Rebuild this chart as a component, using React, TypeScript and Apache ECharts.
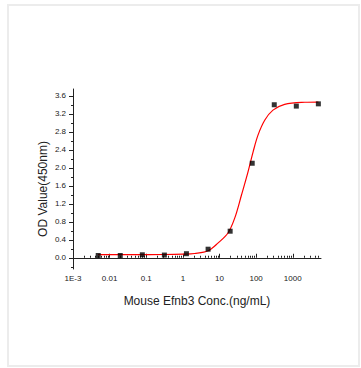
import React, { useEffect, useRef } from "react";
import * as echarts from "echarts";

// Measured points (4-fold dilution series)
const concentrations = [0.00488, 0.0195, 0.0781, 0.3125, 1.25, 4.88, 19.53, 78.13, 312.5, 1250, 5000];
const odValues = [0.05, 0.05, 0.066, 0.06, 0.09, 0.19, 0.59, 2.1, 3.4, 3.37, 3.42];

// Fitted curve
const curveX = [0.0048, 0.05, 0.3, 1, 2.1, 4.9, 9.2, 17, 26, 40, 60, 83, 113, 173, 288, 600, 2140, 5000];
const curveY = [0.07, 0.07, 0.072, 0.08, 0.095, 0.155, 0.33, 0.55, 0.88, 1.4, 1.91, 2.36, 2.73, 3.06, 3.28, 3.41, 3.455, 3.46];

// Axis ticks
const xTickValues = [0.001, 0.01, 0.1, 1, 10, 100, 1000];
const xTickLabels = ["1E-3", "0.01", "0.1", "1", "10", "100", "1000"];
const yTickValues = [0, 0.4, 0.8, 1.2, 1.6, 2.0, 2.4, 2.8, 3.2, 3.6];
const yTickLabels = ["0.0", "0.4", "0.8", "1.2", "1.6", "2.0", "2.4", "2.8", "3.2", "3.6"];
const yMinorTicks = [-0.2, 0.2, 0.6, 1.0, 1.4, 1.8, 2.2, 2.6, 3.0, 3.4];

const X_MIN = 0.001;
const X_MAX = 5900;
const Y_MIN = -0.25;
const Y_MAX = 3.75;

const FONT = "'Liberation Sans', Arial, sans-serif";

export default function App() {
  const ref = useRef<HTMLDivElement>(null);

  useEffect(() => {
    if (!ref.current) return;
    const chart = echarts.init(ref.current, undefined, { renderer: "svg" });

    const xMinor: number[] = [];
    for (let e = -3; e <= 3; e++) {
      for (let m = 2; m <= 9; m++) {
        const v = m * Math.pow(10, e);
        if (v <= X_MAX) xMinor.push(Number(v.toPrecision(3)));
      }
    }

    const curve = curveX.map((x, i) => [x, curveY[i]]);
    const pts = concentrations.map((x, i) => [x, odValues[i]]);

    const axisColor = "#222";

    chart.setOption({
      animation: false,
      backgroundColor: "#ffffff",
      grid: { left: 73, right: 40, top: 89, bottom: 99, containLabel: false },
      xAxis: [
        {
          type: "log",
          logBase: 10,
          min: X_MIN,
          max: X_MAX,
          position: "bottom",
          axisLine: { show: true, lineStyle: { color: axisColor, width: 1 } },
          axisTick: { show: true, inside: true, length: 4, customValues: xTickValues, lineStyle: { color: axisColor } },
          minorTick: { show: false },
          splitLine: { show: false },
          axisLabel: {
            customValues: xTickValues,
            margin: 5,
            fontSize: 8,
            fontFamily: FONT,
            color: "#222",
            formatter: (v: number) => {
              const idx = xTickValues.findIndex((t) => Math.abs(Math.log10(t) - Math.log10(v)) < 1e-6);
              return idx >= 0 ? xTickLabels[idx] : "";
            },
          },
          name: "Mouse Efnb3 Conc.(ng/mL)",
          nameLocation: "middle",
          nameGap: 26,
          nameTextStyle: { fontSize: 12, fontFamily: FONT, color: "#222" },
        },
        {
          type: "log",
          logBase: 10,
          min: X_MIN,
          max: X_MAX,
          position: "bottom",
          axisLine: { show: false },
          axisTick: { show: true, inside: true, length: 2, customValues: xMinor, lineStyle: { color: axisColor } },
          axisLabel: { show: false },
          splitLine: { show: false },
        },
      ],
      yAxis: [
        {
          type: "value",
          min: Y_MIN,
          max: Y_MAX,
          position: "left",
          axisLine: { show: true, lineStyle: { color: axisColor, width: 1 } },
          axisTick: { show: true, inside: false, length: 4, customValues: yTickValues, lineStyle: { color: axisColor } },
          splitLine: { show: false },
          axisLabel: {
            customValues: yTickValues,
            margin: 7,
            fontSize: 8,
            fontFamily: FONT,
            color: "#222",
            formatter: (v: number) => {
              const idx = yTickValues.findIndex((t) => Math.abs(t - v) < 1e-6);
              return idx >= 0 ? yTickLabels[idx] : "";
            },
          },
        },
        {
          type: "value",
          min: Y_MIN,
          max: Y_MAX,
          position: "left",
          axisLine: { show: false },
          axisTick: { show: true, inside: false, length: 2, customValues: yMinorTicks, lineStyle: { color: axisColor } },
          axisLabel: { show: false },
          splitLine: { show: false },
        },
      ],
      graphic: [
        {
          type: "rect",
          shape: { x: 8, y: 5, width: 351, height: 361 },
          style: { fill: "none", stroke: "#ececec", lineWidth: 2 },
          silent: true,
        },
        {
          type: "text",
          x: 43,
          y: 189,
          rotation: Math.PI / 2,
          style: {
            text: "OD Value(450nm)",
            fontSize: 12,
            fontFamily: FONT,
            fill: "#222",
            align: "center",
            verticalAlign: "middle",
          },
        },
      ],
      series: [
        {
          type: "line",
          data: curve,
          xAxisIndex: 0,
          yAxisIndex: 0,
          smooth: 0.35,
          showSymbol: false,
          symbol: "none",
          lineStyle: { color: "#ff0000", width: 1.2 },
          z: 2,
        },
        {
          type: "scatter",
          data: pts,
          xAxisIndex: 0,
          yAxisIndex: 0,
          symbol: "rect",
          symbolSize: 5,
          itemStyle: { color: "#000000" },
          z: 3,
        },
      ],
    });

    return () => chart.dispose();
  }, []);

  return (
    <div
      ref={ref}
      style={{ position: "absolute", left: 0, top: 0, width: 361, height: 368, background: "#fff" }}
    />
  );
}
